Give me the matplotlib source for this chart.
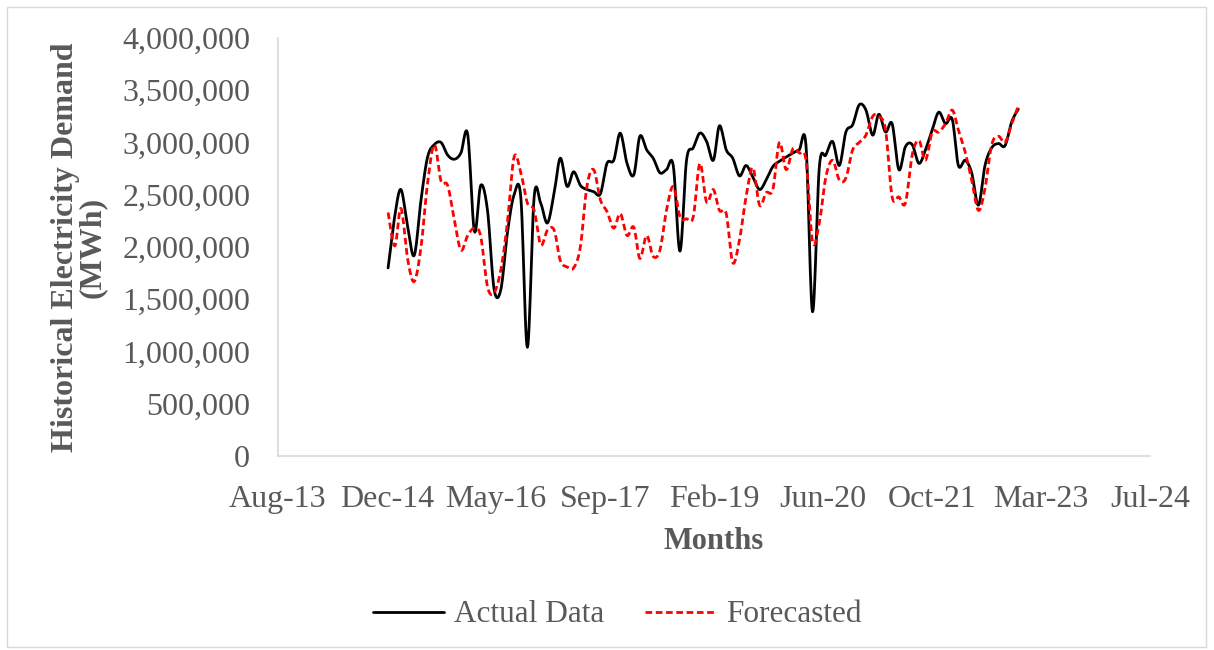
import numpy as np
import matplotlib
matplotlib.use("Agg")
import matplotlib.pyplot as plt
import matplotlib.dates as mdates
from matplotlib.patches import Rectangle
import datetime as dt

# Monthly electricity demand, Jan 2015 - Dec 2022 (MWh)
start_year, start_month, n_months = 2015, 1, 96

actual = [
    1.80e6, 2.30e6, 2.55e6, 2.19e6, 1.92e6, 2.45e6, 2.86e6, 2.98e6, 3.00e6, 2.88e6, 2.84e6, 2.90e6,
    3.08e6, 2.15e6, 2.59e6, 2.35e6, 1.60e6, 1.59e6, 2.13e6, 2.50e6, 2.47e6, 1.04e6, 2.48e6, 2.42e6,
    2.23e6, 2.52e6, 2.85e6, 2.58e6, 2.72e6, 2.59e6, 2.55e6, 2.53e6, 2.51e6, 2.80e6, 2.83e6, 3.09e6,
    2.80e6, 2.69e6, 3.06e6, 2.93e6, 2.85e6, 2.71e6, 2.74e6, 2.78e6, 1.96e6, 2.83e6, 2.95e6, 3.09e6,
    3.01e6, 2.83e6, 3.16e6, 2.93e6, 2.85e6, 2.68e6, 2.78e6, 2.67e6, 2.55e6, 2.64e6, 2.77e6, 2.82e6,
    2.86e6, 2.90e6, 2.93e6, 2.97e6, 1.38e6, 2.76e6, 2.88e6, 3.01e6, 2.78e6, 3.10e6, 3.17e6, 3.36e6,
    3.31e6, 3.07e6, 3.27e6, 3.10e6, 3.18e6, 2.74e6, 2.96e6, 2.98e6, 2.80e6, 2.93e6, 3.12e6, 3.29e6,
    3.18e6, 3.22e6, 2.78e6, 2.83e6, 2.71e6, 2.40e6, 2.78e6, 2.95e6, 2.99e6, 2.97e6, 3.20e6, 3.32e6,
]

forecasted = [
    2.33e6, 2.01e6, 2.37e6, 1.88e6, 1.67e6, 2.00e6, 2.61e6, 2.98e6, 2.63e6, 2.59e6, 2.26e6, 1.97e6,
    2.11e6, 2.18e6, 2.10e6, 1.62e6, 1.56e6, 1.78e6, 2.23e6, 2.86e6, 2.71e6, 2.42e6, 2.35e6, 2.02e6,
    2.16e6, 2.16e6, 1.87e6, 1.81e6, 1.80e6, 2.00e6, 2.58e6, 2.74e6, 2.45e6, 2.34e6, 2.18e6, 2.32e6,
    2.11e6, 2.19e6, 1.89e6, 2.11e6, 1.91e6, 1.97e6, 2.35e6, 2.58e6, 2.29e6, 2.27e6, 2.29e6, 2.80e6,
    2.43e6, 2.55e6, 2.35e6, 2.32e6, 1.85e6, 2.07e6, 2.48e6, 2.76e6, 2.40e6, 2.52e6, 2.55e6, 3.00e6,
    2.74e6, 2.94e6, 2.90e6, 2.83e6, 2.05e6, 2.23e6, 2.67e6, 2.83e6, 2.64e6, 2.66e6, 2.93e6, 3.00e6,
    3.07e6, 3.25e6, 3.25e6, 3.12e6, 2.48e6, 2.48e6, 2.42e6, 2.88e6, 3.02e6, 2.83e6, 3.10e6, 3.10e6,
    3.18e6, 3.31e6, 3.12e6, 2.91e6, 2.64e6, 2.35e6, 2.56e6, 2.98e6, 3.06e6, 3.00e6, 3.18e6, 3.35e6,
]

y_ticks = [0, 500000, 1000000, 1500000, 2000000, 2500000, 3000000, 3500000, 4000000]

months = [dt.date(start_year + (start_month - 1 + i) // 12, (start_month - 1 + i) % 12 + 1, 1)
          for i in range(n_months)]
xnum = mdates.date2num(months)


def smooth(x, y, steps=12):
    """Bezier smoothing through every point (control points at 1/6 of neighbour spread)."""
    x = np.asarray(x, float)
    y = np.asarray(y, float)
    px = np.concatenate([[x[0]], x, [x[-1]]])
    py = np.concatenate([[y[0]], y, [y[-1]]])
    xs, ys = [], []
    t = np.linspace(0, 1, steps, endpoint=False)
    for i in range(1, len(px) - 2):
        p0 = np.array([px[i], py[i]])
        p3 = np.array([px[i + 1], py[i + 1]])
        c1 = p0 + (np.array([px[i + 1], py[i + 1]]) - np.array([px[i - 1], py[i - 1]])) / 6
        c2 = p3 - (np.array([px[i + 2], py[i + 2]]) - np.array([px[i], py[i]])) / 6
        b = ((1 - t) ** 3)[:, None] * p0 + (3 * (1 - t) ** 2 * t)[:, None] * c1 \
            + (3 * (1 - t) * t ** 2)[:, None] * c2 + (t ** 3)[:, None] * p3
        xs.append(b[:, 0])
        ys.append(b[:, 1])
    xs.append([x[-1]])
    ys.append([y[-1]])
    return np.concatenate(xs), np.concatenate(ys)


plt.rcParams["font.family"] = ["Liberation Serif", "DejaVu Serif"]
txt = "#595959"
axis_c = "#d9d9d9"

fig = plt.figure(figsize=(12.14, 6.5), dpi=100)
fig.patches.append(Rectangle((7 / 1214, 3 / 650), 1199 / 1214, 640 / 650,
                             transform=fig.transFigure, fill=False,
                             edgecolor=axis_c, linewidth=1.0))

ax = fig.add_axes([278 / 1214, (650 - 456) / 650, 872 / 1214, 418 / 650])

sx, sy = smooth(xnum, actual)
ax.plot(sx, sy, color="black", linewidth=2.0, label="Actual Data", solid_capstyle="round")
fx, fy = smooth(xnum, forecasted)
ax.plot(fx, fy, color="#ff0000", linewidth=2.0, linestyle=(0, (2.4, 1.3)), label="Forecasted")

x0 = mdates.date2num(dt.date(2013, 8, 14))
ax.set_xlim(x0, x0 + 4000)
ax.set_xticks([x0 + 500 * k for k in range(9)])
ax.xaxis.set_major_formatter(mdates.DateFormatter("%b-%y"))
ax.set_ylim(0, 4000000)
ax.set_yticks(y_ticks)
ax.yaxis.set_major_formatter(matplotlib.ticker.FuncFormatter(lambda v, p: f"{int(v):,}"))

for s in ("top", "right"):
    ax.spines[s].set_visible(False)
for s in ("left", "bottom"):
    ax.spines[s].set_color(axis_c)
    ax.spines[s].set_linewidth(1.2)
ax.tick_params(axis="both", length=0, labelsize=23, labelcolor=txt)
ax.tick_params(axis="x", pad=21)
ax.tick_params(axis="y", pad=20)

ax.set_xlabel("Months", fontsize=22, fontweight="bold", color=txt, labelpad=9)
ax.set_ylabel("Historical Electricity Demand\n(MWh)", fontsize=23, fontweight="bold",
              color=txt, linespacing=0.9, va="center", ha="center")
ax.yaxis.set_label_coords(-0.228, 0.5)

leg = fig.legend(loc="center", bbox_to_anchor=(617 / 1214, (650 - 615) / 650), ncol=2,
                 frameon=False, fontsize=22.5, handlelength=2.3, handletextpad=0.3,
                 columnspacing=1.3)
for t in leg.get_texts():
    t.set_color(txt)

fig.savefig("out.png", dpi=100)
